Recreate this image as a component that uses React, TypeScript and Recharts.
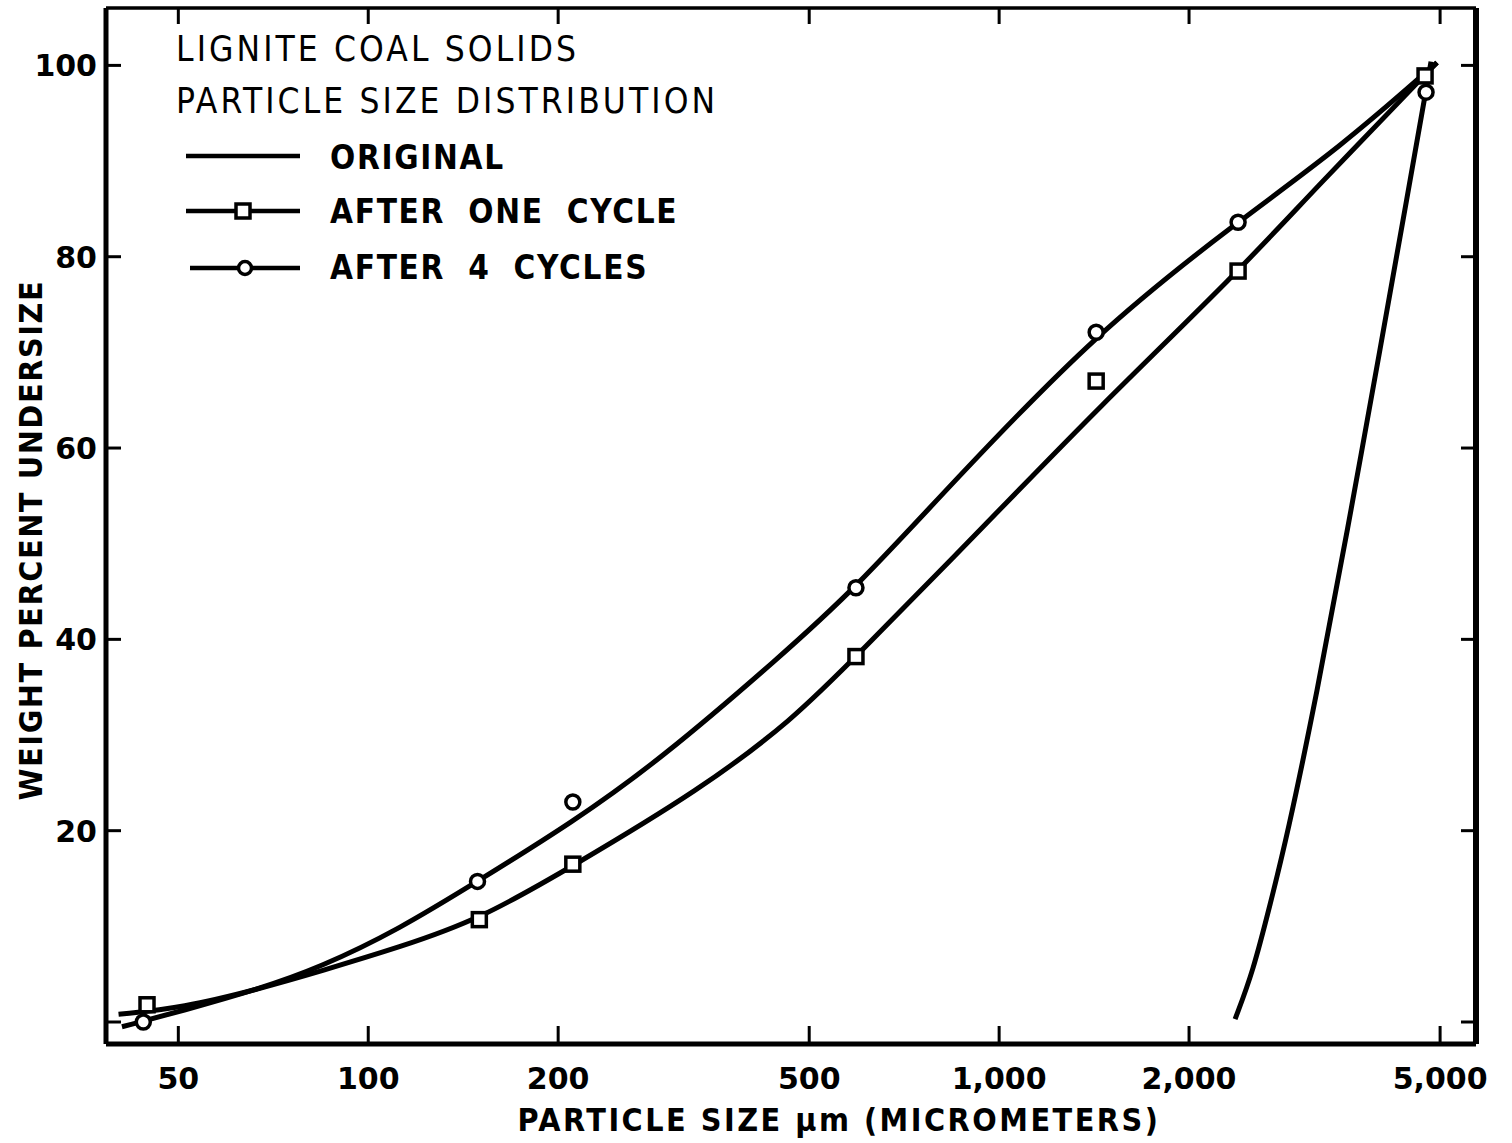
import React from "react";
import { ComposedChart, Line, Scatter, XAxis, YAxis } from "recharts";

// smooth fitted curves (x in micrometers, y in weight %)
const originalCurve = [
  { x: 2366, y: 0.3 },
  { x: 2527, y: 5.3 },
  { x: 2689, y: 12.3 },
  { x: 2861, y: 19.4 },
  { x: 3191, y: 34.4 },
  { x: 3561, y: 51.2 },
  { x: 4016, y: 70.3 },
  { x: 4433, y: 86.2 },
  { x: 4837, y: 100.4 },
];

const oneCycleCurve = [
  { x: 40.2, y: 0.8 },
  { x: 50.9, y: 1.5 },
  { x: 66.7, y: 3.4 },
  { x: 83.9, y: 5.3 },
  { x: 112, y: 7.8 },
  { x: 150, y: 10.7 },
  { x: 211, y: 16.3 },
  { x: 336, y: 24.3 },
  { x: 471, y: 31.6 },
  { x: 593, y: 38.2 },
  { x: 968, y: 52.5 },
  { x: 1425, y: 64.0 },
  { x: 2392, y: 78.4 },
  { x: 3145, y: 86.9 },
  { x: 4944, y: 100.3 },
];

const fourCycleCurve = [
  { x: 40.7, y: -0.5 },
  { x: 50.9, y: 1.2 },
  { x: 66.7, y: 3.4 },
  { x: 83.9, y: 5.7 },
  { x: 112, y: 9.7 },
  { x: 149, y: 14.7 },
  { x: 211, y: 20.9 },
  { x: 290, y: 27.4 },
  { x: 450, y: 38.2 },
  { x: 593, y: 45.4 },
  { x: 836, y: 56.1 },
  { x: 1425, y: 72.1 },
  { x: 2392, y: 83.7 },
  { x: 3470, y: 91.4 },
  { x: 4944, y: 100.3 },
];

// measured points
const oneCyclePoints = [
  { x: 44.6, y: 1.8 },
  { x: 150, y: 10.7 },
  { x: 211, y: 16.5 },
  { x: 593, y: 38.2 },
  { x: 1425, y: 67.0 },
  { x: 2392, y: 78.5 },
  { x: 4733, y: 98.9 },
];

const fourCyclePoints = [
  { x: 44, y: 0 },
  { x: 149, y: 14.7 },
  { x: 211, y: 23.0 },
  { x: 593, y: 45.4 },
  { x: 1425, y: 72.1 },
  { x: 2392, y: 83.6 },
  { x: 4750, y: 97.2 },
];

const xTicks = [50, 100, 200, 500, 1000, 2000, 5000];
const yTicks = [0, 20, 40, 60, 80, 100];

const W = 1512;
const H = 1143;
const INK = "#000";
const tickFont = "'DejaVu Sans', sans-serif";
const labelFont = "'DejaVu Sans Condensed', 'DejaVu Sans', sans-serif";

const fmtX = (v: number) => (v >= 1000 ? v.toLocaleString("en-US") : String(v));

const BottomTick = (props: any) => {
  const { x, y, payload } = props;
  return (
    <g>
      <line x1={x} x2={x} y1={y} y2={y - 18} stroke={INK} strokeWidth={3} />
      <text x={x} y={y + 45} textAnchor="middle" fontFamily={tickFont} fontWeight="bold" fontSize={30} fill={INK}>
        {fmtX(payload.value)}
      </text>
    </g>
  );
};

const TopTick = (props: any) => {
  const { x, y } = props;
  return <line x1={x} x2={x} y1={y} y2={y + 16} stroke={INK} strokeWidth={3} />;
};

const LeftTick = (props: any) => {
  const { x, y, payload } = props;
  return (
    <g>
      <line x1={x} x2={x + 15} y1={y} y2={y} stroke={INK} strokeWidth={3} />
      <text x={x - 9} y={y + 11} textAnchor="end" fontFamily={tickFont} fontWeight="bold" fontSize={30} fill={INK}>
        {payload.value === 0 ? "" : payload.value}
      </text>
    </g>
  );
};

const RightTick = (props: any) => {
  const { x, y } = props;
  return <line x1={x} x2={x - 15} y1={y} y2={y} stroke={INK} strokeWidth={3} />;
};

const SquareDot = (props: any) => {
  const { cx, cy } = props;
  return <rect x={cx - 7} y={cy - 7} width={14} height={14} fill="#fff" stroke={INK} strokeWidth={3.5} />;
};

const CircleDot = (props: any) => {
  const { cx, cy } = props;
  return <circle cx={cx} cy={cy} r={7} fill="#fff" stroke={INK} strokeWidth={3.5} />;
};

function Overlay() {
  return (
    <svg width={W} height={H} style={{ position: "absolute", left: 0, top: 0, pointerEvents: "none" }}>
      <g fontFamily={labelFont} fill={INK}>
        <text x={176} y={61} fontSize={35} letterSpacing={3.1}>LIGNITE COAL  SOLIDS</text>
        <text x={176} y={113} fontSize={35} letterSpacing={3.1}>PARTICLE SIZE DISTRIBUTION</text>
        <g fontSize={33} fontWeight="bold" letterSpacing={1.7} wordSpacing={11}>
          <text x={330} y={169}>ORIGINAL</text>
          <text x={330} y={223}>AFTER ONE CYCLE</text>
          <text x={330} y={279}>AFTER 4 CYCLES</text>
        </g>
        <text x={839} y={1131} fontSize={32} fontWeight="bold" letterSpacing={2.5} textAnchor="middle">
          PARTICLE SIZE μm (MICROMETERS)
        </text>
        <text
          x={0}
          y={0}
          fontSize={32}
          fontWeight="bold"
          letterSpacing={1.6}
          textAnchor="middle"
          transform="translate(42,540) rotate(-90)"
        >
          WEIGHT PERCENT UNDERSIZE
        </text>
      </g>
      <line x1={186} x2={300} y1={156} y2={156} stroke={INK} strokeWidth={4.5} />
      <line x1={186} x2={300} y1={211} y2={211} stroke={INK} strokeWidth={4.5} />
      <rect x={236} y={204} width={14} height={14} fill="#fff" stroke={INK} strokeWidth={3.5} />
      <line x1={190} x2={300} y1={268} y2={268} stroke={INK} strokeWidth={4.5} />
      <circle cx={245} cy={268} r={6.5} fill="#fff" stroke={INK} strokeWidth={3.5} />
    </svg>
  );
}

export default function App() {
  return (
    <div style={{ position: "absolute", left: 0, top: 0, width: W, height: H, background: "#fff" }}>
      <ComposedChart width={W} height={H} margin={{ top: 7, right: 35, bottom: 98, left: 105 }}>
        <XAxis
          dataKey="x"
          type="number"
          scale="log"
          domain={[38.4, 5700]}
          allowDataOverflow
          ticks={xTicks}
          interval={0}
          height={1}
          tickSize={0}
          tickMargin={0}
          tickLine={false}
          tick={BottomTick}
          axisLine={{ stroke: INK, strokeWidth: 5 }}
        />
        <XAxis
          xAxisId="top"
          orientation="top"
          dataKey="x"
          type="number"
          scale="log"
          domain={[38.4, 5700]}
          allowDataOverflow
          ticks={xTicks}
          interval={0}
          height={1}
          tickSize={0}
          tickMargin={0}
          tickLine={false}
          tick={TopTick}
          axisLine={{ stroke: INK, strokeWidth: 3.5 }}
        />
        <YAxis
          dataKey="y"
          type="number"
          domain={[-2.3, 106]}
          allowDataOverflow
          ticks={yTicks}
          interval={0}
          width={1}
          tickSize={0}
          tickMargin={0}
          tickLine={false}
          tick={LeftTick}
          axisLine={{ stroke: INK, strokeWidth: 5 }}
        />
        <YAxis
          yAxisId="right"
          orientation="right"
          type="number"
          domain={[-2.3, 106]}
          allowDataOverflow
          ticks={yTicks}
          interval={0}
          width={1}
          tickSize={0}
          tickMargin={0}
          tickLine={false}
          tick={RightTick}
          axisLine={{ stroke: INK, strokeWidth: 6 }}
        />
        <Line data={originalCurve} dataKey="y" type="basis" stroke={INK} strokeWidth={5} dot={false} isAnimationActive={false} />
        <Line data={oneCycleCurve} dataKey="y" type="basis" stroke={INK} strokeWidth={5} dot={false} isAnimationActive={false} />
        <Line data={fourCycleCurve} dataKey="y" type="basis" stroke={INK} strokeWidth={5} dot={false} isAnimationActive={false} />
        <Scatter data={oneCyclePoints} dataKey="y" shape={SquareDot} isAnimationActive={false} />
        <Scatter data={fourCyclePoints} dataKey="y" shape={CircleDot} isAnimationActive={false} />
      </ComposedChart>
      <Overlay />
    </div>
  );
}
